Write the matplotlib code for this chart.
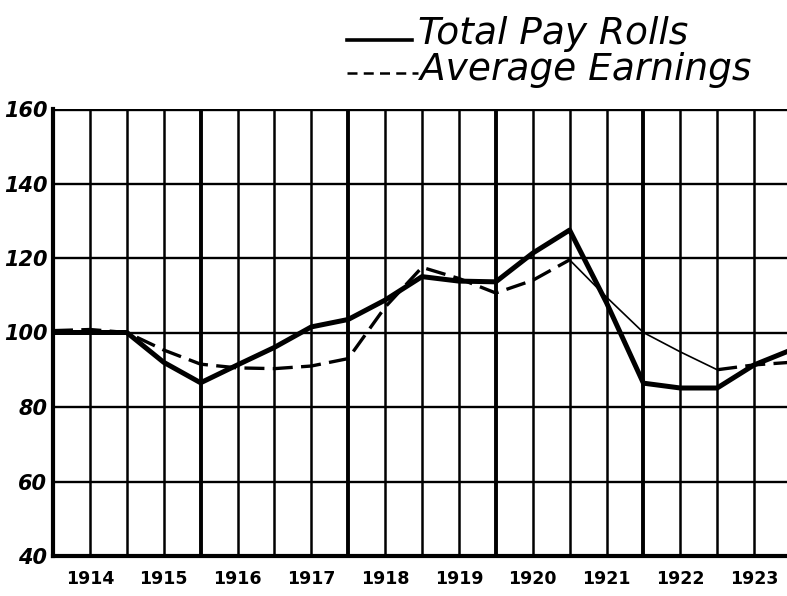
import numpy as np
import matplotlib.pyplot as plt
from matplotlib.lines import Line2D

# half-year steps, Jan 1914 .. Jan 1924
periods = np.arange(1914, 1924.01, 0.5)
years = ['1914', '1915', '1916', '1917', '1918',
         '1919', '1920', '1921', '1922', '1923']
y_ticks = [40, 60, 80, 100, 120, 140, 160]

total_pay_rolls = [100, 100, 100, 92, 86.5, 91.3, 96, 101.5, 103.5, 108.7, 115,
                   113.8, 113.6, 121.3, 127.5, 108, 86.4, 85.1, 85.1, 91.3, 95.3]
average_earnings = [100.5, 100.8, 100, 95.3, 91.5, 90.5, 90.3, 91, 93, 106.8, 117.5,
                    114.5, 110.6, 114, 119.5, 109.5, 100, 94.8, 90, 91.3, 92]

fig = plt.figure(figsize=(7.87, 5.96), dpi=100)
ax = fig.add_axes([53/787, 40/596, (787-53)/787, 447/596])

ax.set_xlim(1914, 1914 + (787-53)/36.9/2)
ax.set_ylim(40, 160)

# ruled background: every half year, heavier every two years
for i, p in enumerate(periods):
    lw = 2.8 if i % 4 == 0 else 1.8
    ax.axvline(p, color='black', lw=lw, zorder=1)
for v in y_ticks:
    ax.axhline(v, color='black', lw=2.4 if v == 160 else 1.7, zorder=1)

ax.plot(periods, total_pay_rolls, color='black', lw=3.6,
        solid_joinstyle='round', solid_capstyle='round', zorder=3)

# earnings: dashed, with the 1921 slide drawn as a thin rule
ae = np.array(average_earnings)
ax.plot(periods[:15], ae[:15], color='black', lw=2.4, dashes=(6, 2.5), zorder=2)
ax.plot(periods[14:19], ae[14:19], color='black', lw=1.2, zorder=2)
ax.plot(periods[18:], ae[18:], color='black', lw=2.4, dashes=(6, 2.5), zorder=2)

for s in ['top', 'right']:
    ax.spines[s].set_visible(False)
ax.spines['left'].set_linewidth(3)
ax.spines['bottom'].set_linewidth(3)

ax.set_xticks(np.arange(1914.5, 1924, 1.0))
ax.set_xticklabels(years, fontsize=12.5, fontweight='bold')
ax.set_yticks(y_ticks)
ax.set_yticklabels([str(v) for v in y_ticks], fontsize=15, fontweight='bold',
                   fontstyle='italic')
ax.tick_params(length=0, pad=4)
ax.tick_params(axis='x', pad=10)

# hand-lettered key
fig.add_artist(Line2D([347/787, 412/787], [1 - 40/596, 1 - 40/596],
                      color='black', lw=2.6))
fig.add_artist(Line2D([347/787, 418/787], [1 - 73/596, 1 - 73/596],
                      color='black', lw=1.8, dashes=(4, 2.5)))
fig.text(418/787, 1 - 34/596, 'Total Pay Rolls', fontsize=27, fontstyle='italic',
         va='center', ha='left')
fig.text(420/787, 1 - 70/596, 'Average Earnings', fontsize=27, fontstyle='italic',
         va='center', ha='left')

fig.savefig('out.png', dpi=100)
